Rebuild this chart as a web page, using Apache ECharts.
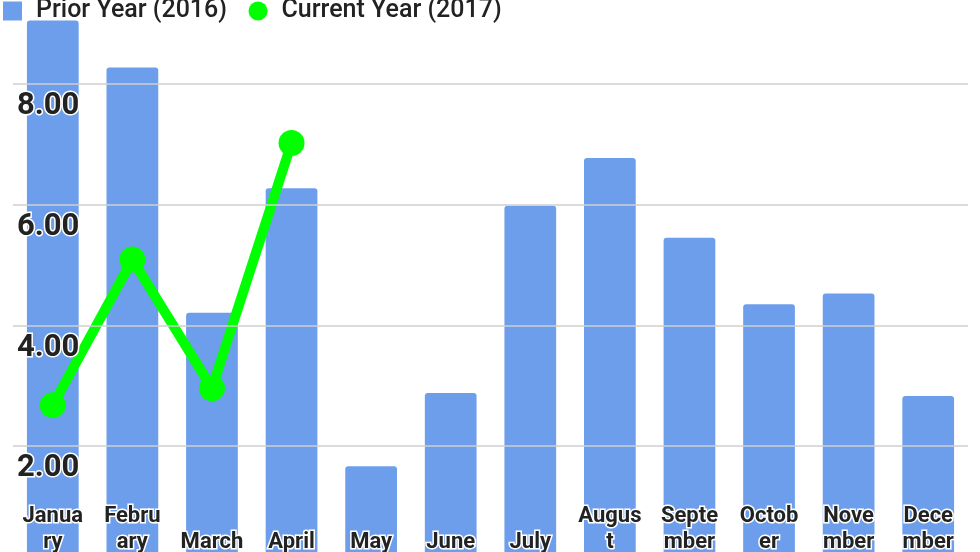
<!DOCTYPE html>
<html>
<head>
<meta charset="utf-8">
<script src="https://cdn.jsdelivr.net/npm/echarts@6/dist/echarts.min.js"></script>
<style>
  html, body { margin: 0; padding: 0; background: #fff; }
  #chart { width: 980px; height: 552px; }
</style>
</head>
<body>
<div id="chart"></div>
<script>
// months (categories) and the wrapped labels as shown under the bars
var months = ['January', 'February', 'March', 'April', 'May', 'June',
  'July', 'August', 'September', 'October', 'November', 'December'];
var monthLabels = ['Janua\nry', 'Febru\nary', 'March', 'April', 'May', 'June',
  'July', 'Augus\nt', 'Septe\nmber', 'Octob\ner', 'Nove\nmber', 'Dece\nmber'];

// prior year, all twelve months
var prior2016 = [9.05, 8.27, 4.21, 6.27, 1.67, 2.88, 5.98, 6.77, 5.45, 4.35, 4.53, 2.83];
// current year, only four months so far
var current2017 = [2.68, 5.09, 2.96, 7.02];

var halo = { textBorderColor: '#fff', textBorderWidth: 3 };

var myChart = echarts.init(document.getElementById('chart'));

myChart.setOption({
  animation: false,
  textStyle: { fontFamily: 'Roboto' },
  legend: {
    left: 3,
    top: -3,
    padding: 0,
    itemWidth: 19,
    itemHeight: 19,
    itemGap: 20,
    textStyle: Object.assign({ fontSize: 25, fontWeight: 500, color: '#222', padding: [0, 0, 0, 9] }, halo),
    data: [
      { name: 'Prior Year (2016)', icon: 'rect' },
      { name: 'Current Year (2017)', icon: 'circle' }
    ]
  },
  grid: {
    left: 13,
    right: 12,
    top: -37,
    bottom: -15,
    containLabel: false,
    outerBoundsMode: 'none'
  },
  xAxis: {
    type: 'category',
    data: months,
    z: 10,
    axisLine: { show: false },
    axisTick: { show: false },
    axisLabel: Object.assign({
      inside: true,
      margin: 12,
      interval: 0,
      fontSize: 22,
      fontWeight: 'bold',
      lineHeight: 26,
      color: '#222',
      formatter: function (v, i) { return monthLabels[i]; }
    }, halo)
  },
  yAxis: {
    type: 'value',
    min: 0,
    max: 10,
    interval: 2,
    z: 10,
    axisLine: { show: false },
    axisTick: { show: false },
    splitLine: { lineStyle: { color: '#cfcfcf', width: 1.5 } },
    axisLabel: Object.assign({
      inside: true,
      margin: 4,
      fontSize: 31,
      fontWeight: 'bold',
      color: '#222',
      verticalAlign: 'top',
      padding: [7, 0, 0, 0],
      formatter: function (v) { return v.toFixed(2); }
    }, halo)
  },
  series: [
    {
      name: 'Prior Year (2016)',
      type: 'bar',
      data: prior2016,
      barWidth: '65%',
      itemStyle: { color: '#6d9eeb', borderRadius: [3, 3, 0, 0] }
    },
    {
      name: 'Current Year (2017)',
      type: 'line',
      data: current2017,
      z: 5,
      symbol: 'circle',
      symbolSize: 26,
      lineStyle: { color: '#00ff00', width: 10 },
      itemStyle: { color: '#00ff00' }
    }
  ]
});
</script>
</body>
</html>
